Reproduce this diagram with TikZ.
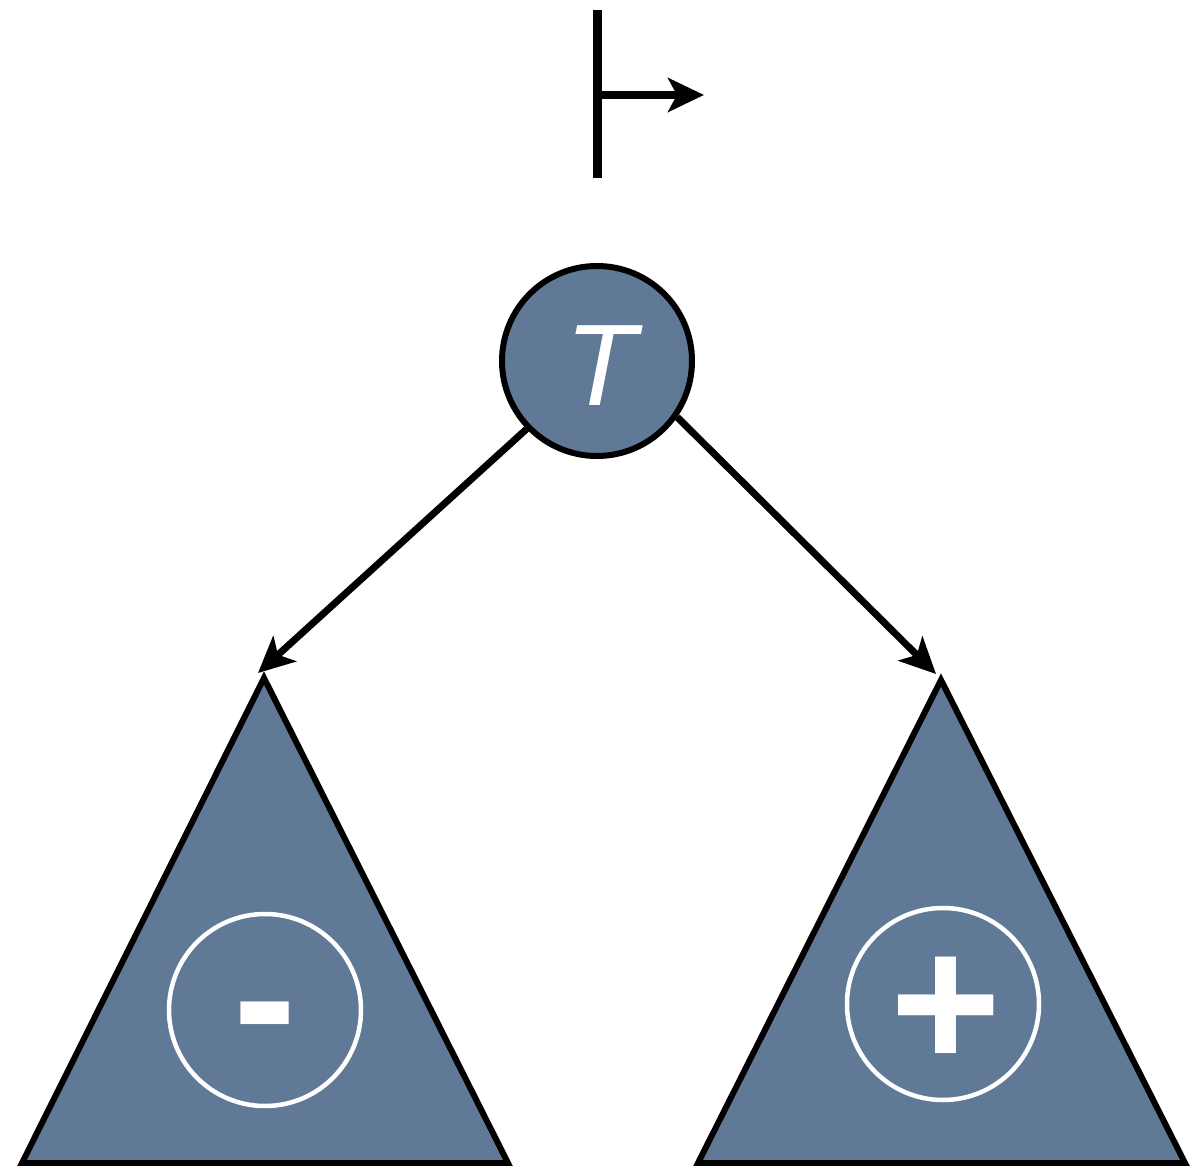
\documentclass[tikz,border=0pt]{standalone}
\usepackage{fontspec}
\setmainfont{Liberation Sans}
\usetikzlibrary{arrows.meta}
\definecolor{slate}{RGB}{96,121,150}
\tikzset{
  edge/.style={line width=7pt, -{Stealth[length=36pt,width=34pt,inset=9pt]}},
  rootnode/.style={circle, draw=black, fill=slate, line width=6pt, minimum size=190pt, inner sep=0pt},
  subtree/.style={draw=black, fill=slate, line width=6pt, line join=miter},
  signring/.style={circle, draw=white, line width=4.5pt, minimum size=192pt, inner sep=0pt},
  sign/.style={text=white, font=\bfseries\fontsize{190}{190}\selectfont, inner sep=0pt}
}
\begin{document}
\begin{tikzpicture}[x=1pt, y=-1pt]
  \useasboundingbox (0,0) rectangle (1200,1166);

  % start marker above the root
  \coordinate (barTop) at (597,10);
  \coordinate (barBot) at (597,178);
  \coordinate (barMid) at (597,95);
  \coordinate (barEnd) at (704,95);
  \draw[line width=9pt] (barTop) -- (barBot);
  \draw[edge, line width=8.5pt] (barMid) -- (barEnd);

  % root
  \node[rootnode] (T) at (597,361) {};
  \node[text=white, font=\itshape\fontsize{116}{116}\selectfont, inner sep=0pt] (Tlabel) at (601,366) {T};

  % subtrees
  \coordinate (lapex) at (264,678);
  \coordinate (rapex) at (941,680);
  \draw[subtree] (lapex) -- (508,1163) -- (22,1163) -- cycle;
  \draw[subtree] (rapex) -- (1185,1163) -- (698,1163) -- cycle;

  \coordinate (ltip) at (258,673);
  \coordinate (rtip) at (936,674);
  \draw[edge] (T.-136) -- (ltip);
  \draw[edge] (T.-35) -- (rtip);

  % signs inside the subtrees
  \node[signring] (lring) at (265,1010) {};
  \node[signring] (rring) at (943,1004) {};
  \node[sign] (minus) at (265,1032) {-};
  \node[sign] (plus) at (946,1013) {+};
\end{tikzpicture}
\end{document}
